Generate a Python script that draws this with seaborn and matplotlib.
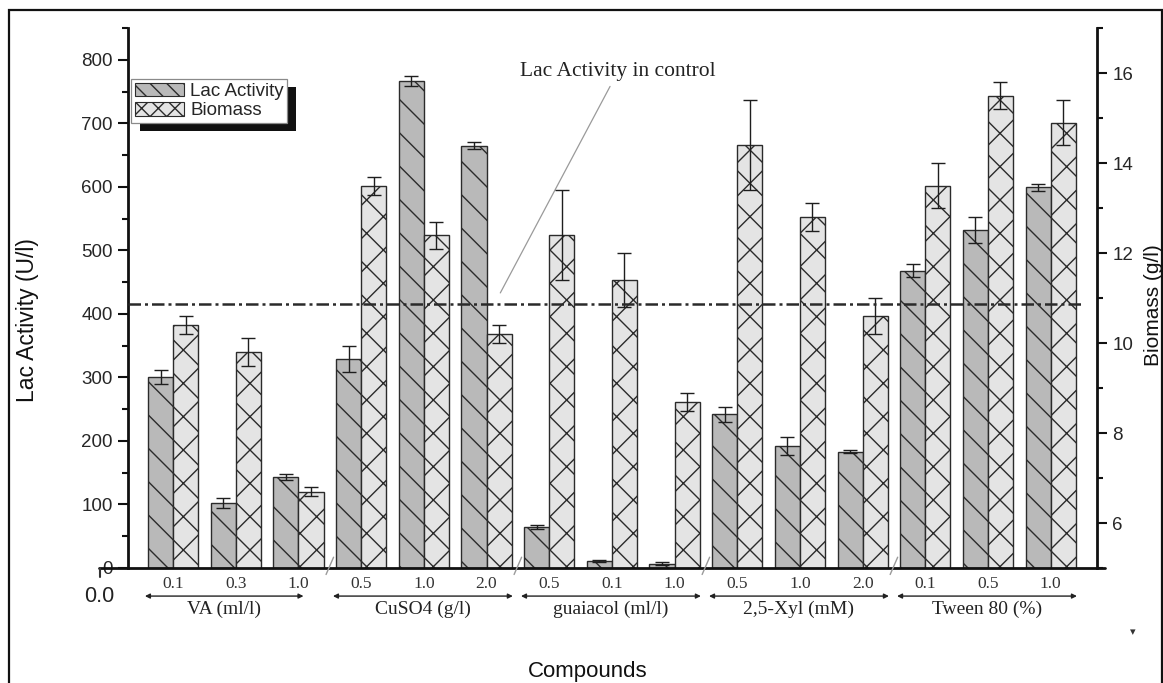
import numpy as np
import pandas as pd
import matplotlib
matplotlib.use("Agg")
import matplotlib.pyplot as plt
import matplotlib.transforms as mtransforms
import seaborn as sns
from matplotlib.patches import Patch, Rectangle
from matplotlib.lines import Line2D

# ---- data -------------------------------------------------------------
groups = ["VA (ml/l)", "CuSO4 (g/l)", "guaiacol (ml/l)", "2,5-Xyl (mM)", "Tween 80 (%)"]
group_of = [0, 0, 0, 1, 1, 1, 2, 2, 2, 3, 3, 3, 4, 4, 4]
doses = ["0.1", "0.3", "1.0", "0.5", "1.0", "2.0", "0.5", "0.1", "1.0",
         "0.5", "1.0", "2.0", "0.1", "0.5", "1.0"]
lac = [301, 102, 143, 329, 767, 665, 65, 11, 7, 242, 192, 183, 468, 532, 599]
lac_err = [11, 8, 5, 21, 8, 6, 3, 1, 2, 12, 14, 2, 10, 21, 5]
biomass = [10.4, 9.8, 6.7, 13.5, 12.4, 10.2, 12.4, 11.4, 8.7,
           14.4, 12.8, 10.6, 13.5, 15.5, 14.9]
biomass_err = [0.2, 0.3, 0.1, 0.2, 0.3, 0.2, 1.0, 0.6, 0.2,
               1.0, 0.3, 0.4, 0.5, 0.3, 0.5]
control_lac = 415

# ---- style ------------------------------------------------------------
sns.set_theme(style="white")
plt.rcParams["font.family"] = ["Liberation Sans", "DejaVu Sans"]
plt.rcParams["hatch.linewidth"] = 1.0
SERIF = ["Liberation Serif", "DejaVu Serif"]
LAC_FILL, BIO_FILL, EDGE = "#b9b9b9", "#e4e4e4", "#2b2b2b"

W, H = 1163, 683
fig = plt.figure(figsize=(W / 100, H / 100), dpi=100)
ax = fig.add_axes([128 / W, 1 - 568 / H, (1097 - 128) / W, (568 - 28) / H])
ax2 = ax.twinx()

pos = np.arange(len(doses))
df = pd.DataFrame({"pos": pos, "dose": doses, "lac": lac, "lac_err": lac_err,
                   "biomass": biomass, "biomass_err": biomass_err})
df["x_lac"] = df["pos"] - 0.2
df["x_bio"] = df["pos"] + 0.2

sns.barplot(data=df, x="x_lac", y="lac", ax=ax, native_scale=True, width=0.4,
            color=LAC_FILL, saturation=1, edgecolor=EDGE, linewidth=1.0,
            hatch="\\", errorbar=None)
sns.barplot(data=df, x="x_bio", y="biomass", ax=ax2, native_scale=True, width=0.4,
            color=BIO_FILL, saturation=1, edgecolor=EDGE, linewidth=1.0,
            hatch="x", errorbar=None)

ax.errorbar(df["x_lac"], df["lac"], yerr=df["lac_err"], fmt="none",
            ecolor="#1e1e1e", elinewidth=1.0, capsize=5, capthick=1.0, zorder=5)
ax2.errorbar(df["x_bio"], df["biomass"], yerr=df["biomass_err"], fmt="none",
             ecolor="#1e1e1e", elinewidth=1.0, capsize=5, capthick=1.0, zorder=5)

# ---- axes ranges and ticks ---------------------------------------------
ax.set_xlim(-0.72, 14.74)
ax.set_ylim(0, 850)
ax2.set_ylim(5, 17)

ax.set_yticks(np.arange(0, 801, 100))
ax.set_yticks(np.arange(50, 851, 100), minor=True)
ax2.set_yticks(np.arange(6, 17, 2))
ax2.set_yticks(np.arange(5, 18, 2), minor=True)

ax.set_xticks(pos)
ax.set_xticklabels(doses, fontfamily=SERIF, fontsize=12.5, color="#333333")
ax.tick_params(axis="x", which="major", direction="out", length=4, width=0.8,
               color="#b0b0b0", pad=2)
ax.tick_params(axis="y", which="major", direction="out", length=7, width=1.5,
               color="#111111", labelsize=13.5, pad=4, left=True)
ax.tick_params(axis="y", which="minor", direction="out", length=4.5, width=1.5,
               color="#111111", left=True)
ax2.tick_params(axis="y", which="major", direction="out", length=7, width=1.5,
                color="#111111", labelsize=13.5, pad=4, right=True)
ax2.tick_params(axis="y", which="minor", direction="out", length=4.5, width=1.5,
                color="#111111", right=True)

for a in (ax, ax2):
    a.spines["top"].set_visible(False)
    a.spines["bottom"].set_visible(False)
    a.set_xlabel("")
ax.spines["left"].set_linewidth(2.0)
ax.spines["left"].set_color("#111111")
ax.spines["right"].set_visible(False)
ax2.spines["left"].set_visible(False)
ax2.spines["right"].set_linewidth(2.0)
ax2.spines["right"].set_color("#111111")

# x axis baseline, running a little past both spines
ax2.add_line(Line2D([-0.03, 1.008], [0, 0], transform=ax.transAxes, color="#111111",
                    lw=2.0, clip_on=False, zorder=6))
ax2.add_line(Line2D([-0.029, -0.029], [0, -0.017], transform=ax.transAxes,
                    color="#333333", lw=1.5, clip_on=False, zorder=6))

# break marks between compound groups
bx = mtransforms.blended_transform_factory(ax.transData, ax.transAxes)
for b in [2.5, 5.5, 8.5, 11.5]:
    ax2.add_line(Line2D([b - 0.06, b + 0.06], [-0.012, 0.02], transform=bx,
                        color="#9a9a9a", lw=1.0, clip_on=False, zorder=6))

ax.set_ylabel("Lac Activity (U/l)", fontsize=16.5, color="#111111")
ax.yaxis.set_label_coords(-0.092, 0.46)
ax2.set_ylabel("Biomass (g/l)", fontsize=15, color="#111111", rotation=90)
ax2.yaxis.set_label_coords(1.0485, 0.487)

# ---- control line and its note ------------------------------------------
ax2.plot([-0.72, 14.5], [control_lac, control_lac], transform=ax.transData,
         color="#2a2a2a", lw=1.8, dashes=(5, 1.6, 1.2, 1.6), zorder=7, clip_on=False)
ax2.annotate("Lac Activity in control", xy=(5.22, 433), xycoords=ax.transData,
             xytext=(7.1, 782), textcoords=ax.transData, ha="center", va="center",
             fontfamily=SERIF, fontsize=15.5, color="#222222",
             arrowprops=dict(arrowstyle="-", color="#9a9a9a", lw=0.9,
                             shrinkA=2, shrinkB=0))

# ---- compound groups under the axis --------------------------------------
arrow_pad_left = [0.45, 0.45, 0.45, 0.45, 0.45]
arrow_pad_right = [0.08, 0.42, 0.42, 0.42, 0.42]
for g, name in enumerate(groups):
    idx = [i for i, k in enumerate(group_of) if k == g]
    x0, x1 = idx[0] - arrow_pad_left[g], idx[-1] + arrow_pad_right[g]
    ax2.annotate("", xy=(x0, -0.052), xytext=(x1, -0.052), xycoords=bx, textcoords=bx,
                 arrowprops=dict(arrowstyle="<|-|>", color="#222222", lw=1.0,
                                 mutation_scale=7, shrinkA=0, shrinkB=0),
                 annotation_clip=False)
    ax2.text((x0 + x1) / 2, -0.076, name, transform=bx, ha="center", va="center",
             fontfamily=SERIF, fontsize=14, color="#222222")

fig.text(588 / W, 1 - 672 / H, "Compounds", ha="center", va="center",
         fontsize=16, color="#111111")
fig.text(99 / W, 1 - 596 / H, "0.0", ha="center", va="center",
         fontsize=15.5, color="#222222")
fig.text(1133 / W, 1 - 632 / H, "\u25be", ha="center", va="center",
         fontsize=8, color="#333333", family=["DejaVu Sans"])

# ---- legend with a solid drop shadow -------------------------------------
handles = [Patch(facecolor=LAC_FILL, edgecolor=EDGE, hatch="\\\\", lw=0.8),
           Patch(facecolor=BIO_FILL, edgecolor=EDGE, hatch="xx", lw=0.8)]
leg = ax2.legend(handles, ["Lac Activity", "Biomass"], loc="upper left",
                 bbox_to_anchor=(131 / W, 1 - 79 / H), bbox_transform=fig.transFigure,
                 fontsize=13.5, frameon=True, fancybox=False, borderpad=0.2,
                 handlelength=2.6, handleheight=0.75, handletextpad=0.35,
                 labelspacing=0.1, borderaxespad=0)
leg.get_frame().set_edgecolor("#8a8a8a")
leg.get_frame().set_linewidth(0.9)
leg.get_frame().set_alpha(1)
leg.set_zorder(10)

fig.canvas.draw()
bb = leg.get_window_extent()
shadow = Rectangle((bb.x0 + 9, bb.y0 - 8), bb.width, bb.height, transform=None,
                   facecolor="#111111", edgecolor="none", zorder=9)
ax2.add_artist(shadow)

# outer frame around the whole figure
fig.patches.append(Rectangle((9 / W, -0.02), (W - 10) / W, 1 - 10 / H + 0.02,
                             transform=fig.transFigure, fill=False,
                             edgecolor="#111111", lw=1.6))

fig.savefig("out.png", dpi=100)
